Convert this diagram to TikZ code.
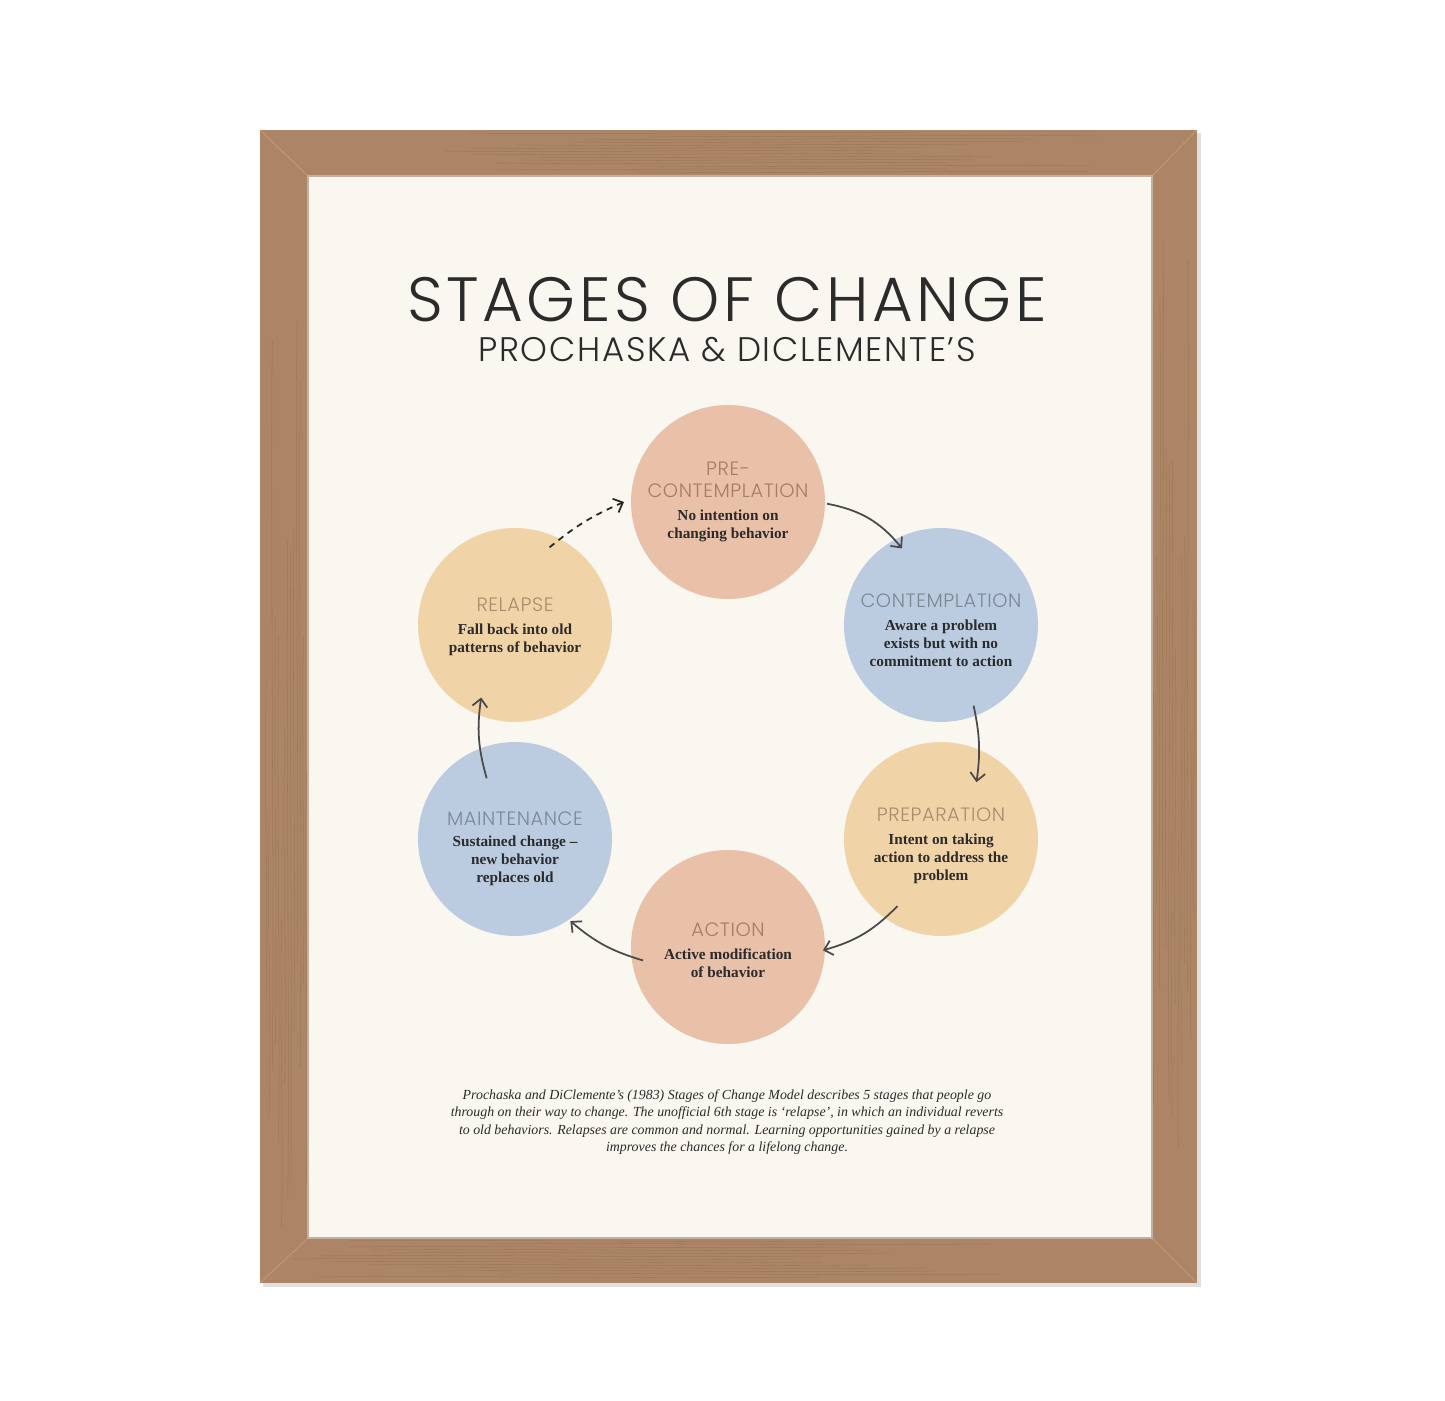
\documentclass[tikz,border=0pt]{standalone}
\usepackage{fontspec}
\setmainfont{Liberation Serif}
\newfontfamily\titlefont[LetterSpace=5.5]{Poppins Light}
\newfontfamily\subfont[LetterSpace=5]{Poppins Light}
\newfontfamily\headfont[LetterSpace=3]{Poppins Light}
\usetikzlibrary{arrows.meta}

\definecolor{wood}{HTML}{AB8565}
\definecolor{wooddark}{HTML}{86623F}
\definecolor{woodlight}{HTML}{C09A78}
\definecolor{mat}{HTML}{FAF6F0}
\definecolor{peach}{HTML}{E9C0A8}
\definecolor{sky}{HTML}{BCCCE0}
\definecolor{sand}{HTML}{F1D3A8}
\definecolor{peachhead}{HTML}{A77B64}
\definecolor{skyhead}{HTML}{7C8794}
\definecolor{sandhead}{HTML}{A88D6C}
\definecolor{ink}{HTML}{2B2B2B}
\definecolor{arrowgray}{HTML}{4A4A4A}

\newcommand{\stagetitle}[2]{{\color{#1}\headfont\mdseries\fontsize{11}{12}\selectfont #2}}

\begin{document}
\begin{tikzpicture}[x=0.02cm, y=0.02cm,
	stage/.style={circle, minimum size=3.88cm, inner sep=0pt, align=center, text=ink,
		font=\fontsize{8.7}{10.2}\selectfont\bfseries},
	flow/.style={draw=arrowgray, line width=1pt, -{Straight Barb[length=4.5pt,width=8.5pt]}},
	grain/.style={wooddark, line width=0.3pt, opacity=0.35}]

	\useasboundingbox (0,0) rectangle (1445,1401);
	\fill[white] (0,0) rectangle (1445,1401);

	% frame
	\fill[black!12] (263,114) rectangle (1201,1268);
	\fill[wood] (260,118) rectangle (1197,1271);
	\pgfmathsetseed{7}
	\foreach \i in {1,...,14} {
		\pgfmathsetmacro{\gx}{263+\i*3.1}
		\pgfmathsetmacro{\ga}{140+rnd*300}
		\pgfmathsetmacro{\gb}{\ga+250+rnd*500}
		\draw[grain] (\gx,\ga) .. controls (\gx+2,\ga+150) and (\gx-2,\gb-150) .. (\gx,\gb);
		\draw[grain] (1197-\i*3.1,\ga+80) .. controls (1197-\i*3.1-2,\ga+230) and (1197-\i*3.1+2,\gb-70) .. (1197-\i*3.1,\gb+80);
		\pgfmathsetmacro{\gy}{121+\i*3}
		\pgfmathsetmacro{\gc}{280+rnd*250}
		\draw[grain] (\gc,\gy) .. controls (\gc+150,\gy+2) and (\gc+300,\gy-2) .. (\gc+500,\gy);
		\draw[grain] (\gc+150,1271-\i*3) .. controls (\gc+300,1271-\i*3-2) and (\gc+450,1271-\i*3+2) .. (\gc+600,1271-\i*3);
	}
	\fill[mat] (308,163) rectangle (1152,1225);
	\draw[woodlight, line width=0.5pt]
	(260,118) -- (308,163) (1197,118) -- (1152,163)
	(1197,1271) -- (1152,1225) (260,1271) -- (308,1225);
	\draw[wooddark!50, line width=0.6pt] (308,163) rectangle (1152,1225);

	% title
	\node (title) [inner sep=0pt, align=center, text=ink, font=\subfont\fontsize{19.4}{22.7}\selectfont] at (727,1081)
	{{\titlefont\fontsize{35.6}{40}\selectfont STAGES OF CHANGE}\\ PROCHASKA \& DICLEMENTE’S};

	% stages
	\node (pre) [stage, fill=peach] at (728,899)
	{\stagetitle{peachhead}{PRE-}\\[2pt] \stagetitle{peachhead}{CONTEMPLATION}\\[3pt] No intention on\\ changing behavior};
	\node (cont) [stage, fill=sky] at (941,776)
	{\rule{0pt}{14pt}\stagetitle{skyhead}{CONTEMPLATION}\\[3pt] Aware a problem\\ exists but with no\\ commitment to action};
	\node (prep) [stage, fill=sand] at (941,562)
	{\rule{0pt}{15pt}\stagetitle{sandhead}{PREPARATION}\\[3pt] Intent on taking\\ action to address the\\ problem};
	\node (act) [stage, fill=peach] at (728,454)
	{\rule{0pt}{11pt}\stagetitle{peachhead}{ACTION}\\[3pt] Active modification\\ of behavior};
	\node (maint) [stage, fill=sky] at (515,562)
	{\rule{0pt}{19pt}\stagetitle{skyhead}{MAINTENANCE}\\[2pt] Sustained change –\\ new behavior\\ replaces old};
	\node (rel) [stage, fill=sand] at (515,776)
	{\rule{0pt}{10pt}\stagetitle{sandhead}{RELAPSE}\\[3pt] Fall back into old\\ patterns of behavior};

	\path
	([shift={(-1:99)}]pre.center) edge[flow, bend left=20] ([shift={(117:86)}]cont.center)
	([shift={(-68:87)}]cont.center) edge[flow, bend left=10] ([shift={(58:67)}]prep.center)
	([shift={(-123:80)}]prep.center) edge[flow, bend left=15] ([shift={(-2:95)}]act.center)
	([shift={(189:86)}]act.center) edge[flow, bend left=12] ([shift={(-56:99)}]maint.center)
	([shift={(115:67)}]maint.center) edge[flow, bend left=12] ([shift={(-115:80)}]rel.center)
	([shift={(66:85)}]rel.center) edge[flow, draw=black!85, bend left=8, dash pattern=on 3.5pt off 3pt] ([shift={(180:104)}]pre.center);

	% note
	\node (note) [align=center, text=ink, font=\fontsize{7.9}{9.9}\selectfont\itshape] at (727,279)
	{Prochaska and DiClemente’s (1983) Stages of Change Model describes 5 stages that people go\\
		through on their way to change. The unofficial 6th stage is ‘relapse’, in which an individual reverts\\
		to old behaviors. Relapses are common and normal. Learning opportunities gained by a relapse\\
		improves the chances for a lifelong change.};

\end{tikzpicture}
\end{document}
